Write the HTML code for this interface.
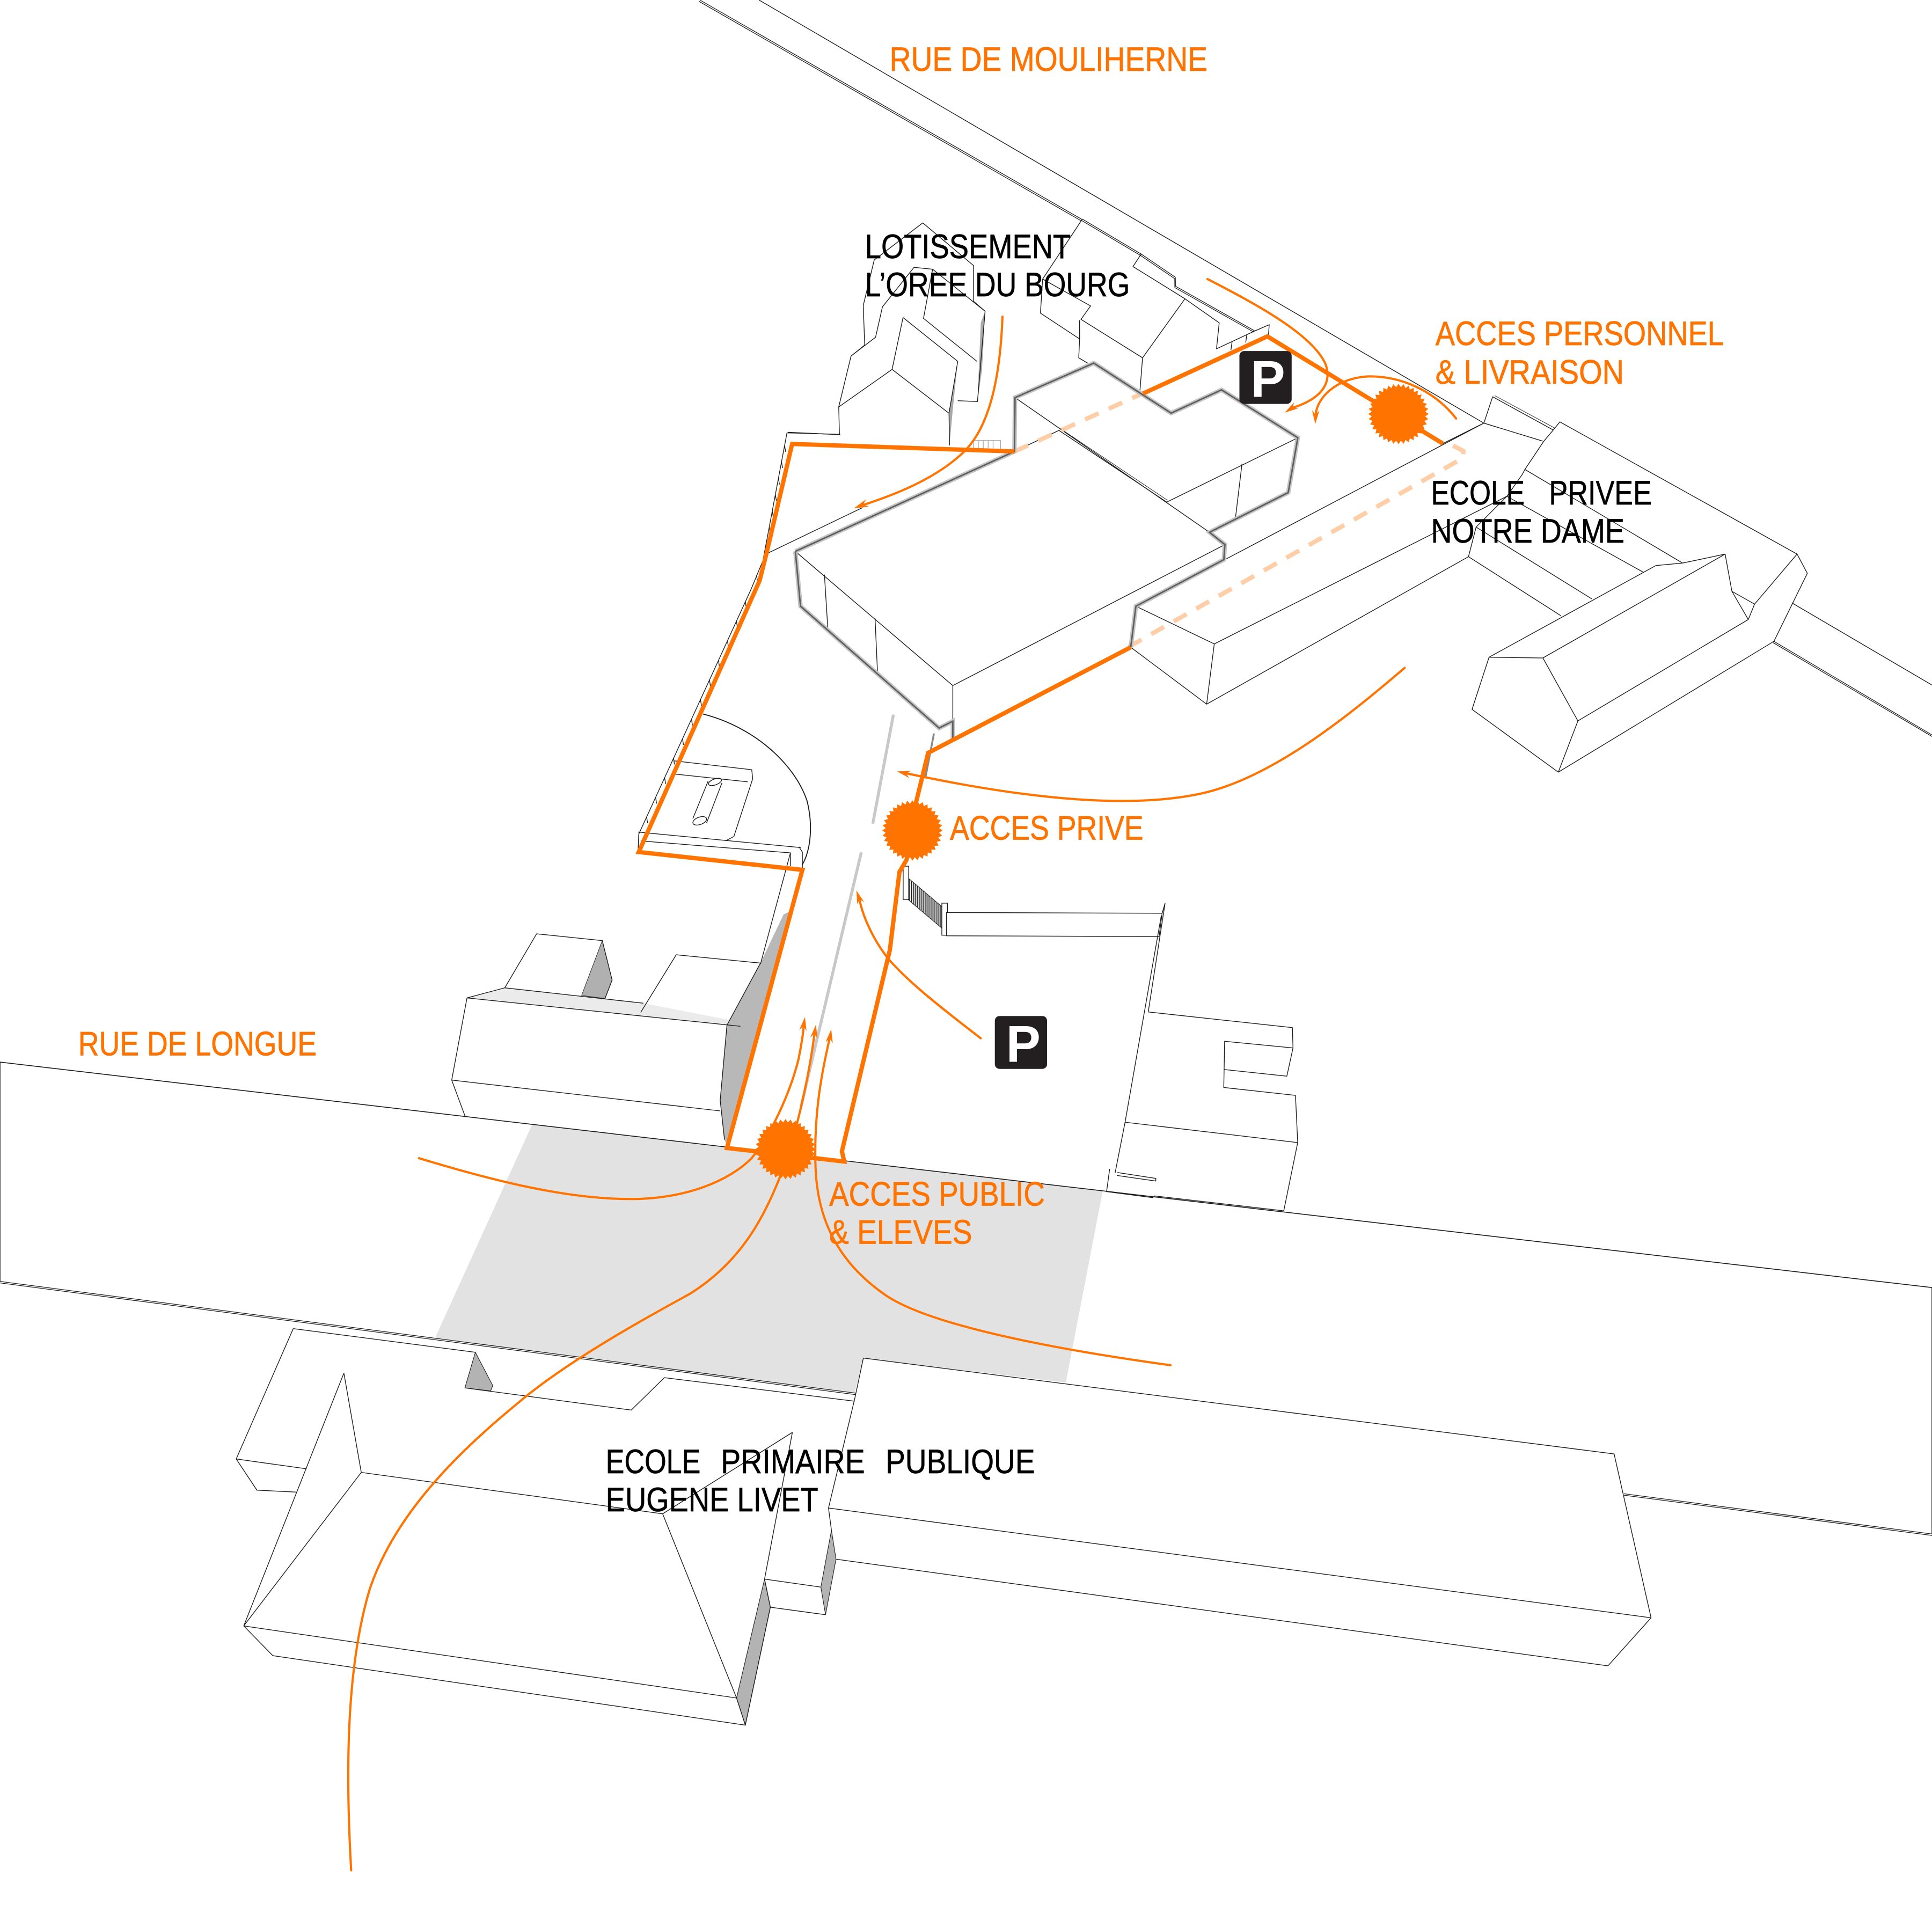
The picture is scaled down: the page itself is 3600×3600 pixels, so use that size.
<!DOCTYPE html>
<html><head><meta charset="utf-8">
<style>
html,body{margin:0;padding:0;background:#fff;}
svg{display:block;}
text{font-family:"Liberation Sans",sans-serif;}
</style></head><body>
<svg xmlns="http://www.w3.org/2000/svg" width="3600" height="3600" viewBox="0 0 1568 1568">
<defs>
<polygon id="burst" points="24.5,0 21.72,1.9 24.13,4.25 21.06,5.64 23.02,8.38 19.76,9.21 21.22,12.25 17.86,12.5 18.77,15.75 15.41,15.41 15.75,18.77 12.5,17.86 12.25,21.22 9.21,19.76 8.38,23.02 5.64,21.06 4.25,24.13 1.9,21.72 0,24.5 -1.9,21.72 -4.25,24.13 -5.64,21.06 -8.38,23.02 -9.21,19.76 -12.25,21.22 -12.5,17.86 -15.75,18.77 -15.41,15.41 -18.77,15.75 -17.86,12.5 -21.22,12.25 -19.76,9.21 -23.02,8.38 -21.06,5.64 -24.13,4.25 -21.72,1.9 -24.5,0 -21.72,-1.9 -24.13,-4.25 -21.06,-5.64 -23.02,-8.38 -19.76,-9.21 -21.22,-12.25 -17.86,-12.5 -18.77,-15.75 -15.41,-15.41 -15.75,-18.77 -12.5,-17.86 -12.25,-21.22 -9.21,-19.76 -8.38,-23.02 -5.64,-21.06 -4.25,-24.13 -1.9,-21.72 0,-24.5 1.9,-21.72 4.25,-24.13 5.64,-21.06 8.38,-23.02 9.21,-19.76 12.25,-21.22 12.5,-17.86 15.75,-18.77 15.41,-15.41 18.77,-15.75 17.86,-12.5 21.22,-12.25 19.76,-9.21 23.02,-8.38 21.06,-5.64 24.13,-4.25 21.72,-1.9"/>
<pattern id="hatch" width="1.6" height="4" patternUnits="userSpaceOnUse"><rect width="0.8" height="4" fill="#222"/></pattern>
</defs>
<rect width="1568" height="1568" fill="#fff"/>

<!-- plaza -->
<polygon points="432,912.4 895,966.4 865,1122 700.7,1102.2 693.6,1130.8 353,1086.1" fill="#e2e2e2"/>

<!-- ROADS -->
<g fill="none" stroke="#1a1a1a" stroke-linejoin="round">
 <path d="M568,0 L878,178 M567.3,1.1 L877.3,179.1" stroke-width="0.55"/>
 <path d="M616,0 L1204.3,343.4 M1454.3,489.3 L1568,556" stroke-width="0.6"/>
 <path d="M1439.7,520.5 L1568,596.5 M1439.1,521.6 L1568,597.7" stroke-width="0.55"/>
 <path d="M0,862 L590,931 M685,942 L1568,1045 M0,862 L0,1040 M1568,1045 L1568,1245" stroke-width="0.7"/>
 <path d="M0,1040 L697,1131 M0,1041.2 L697,1132.2 M1318,1212.3 L1568,1245 M1318,1213.5 L1568,1246.2" stroke-width="0.55"/>
</g>

<!-- BOTTOM BUILDINGS (Ecole primaire) -->
<polygon points="700.7,1102.2 1310,1180 1340,1313 1305,1352 679,1265 674.8,1242 672.4,1224 693.6,1135.6" fill="#fff"/>
<g fill="#b3b3b3" stroke="#222" stroke-width="0.5">
 <polygon points="385.8,1097.5 399.9,1124.5 398.2,1128.9 377.3,1126.4"/>
 <polygon points="620.5,1281.6 625.2,1304.4 604.9,1400.1 597.8,1378.1"/>
 <polygon points="674.8,1242 678.5,1265.4 670,1310.5 666.2,1288.1"/>
</g>
<g fill="none" stroke="#1a1a1a" stroke-width="0.6" stroke-linejoin="round">
 <path d="M238,1078.3 L385.8,1097.5 M238,1078.3 L191.7,1184.1 L248.8,1192.1 M191.7,1184.1 L208.5,1209.4 L240.5,1211"/>
 <path d="M377.3,1126.4 L512.3,1144.4 L539.2,1118.1 L693.6,1137.2"/>
 <path d="M279.1,1114.4 L293.2,1195 M279.1,1114.4 L197.8,1319.6 M293.2,1195 L197.8,1319.6 M293.2,1195 L537.8,1228.6 M197.8,1319.6 L597.8,1378.1 M197.8,1319.6 L221.4,1343.7 L604.9,1400.1 M597.8,1378.1 L604.9,1400.1"/>
 <path d="M643.1,1162.5 L537.8,1228.6 L597.8,1378.1 M643.1,1162.5 L620.5,1281.6 L625.2,1304.4 L604.9,1400.1"/>
 <path d="M620.5,1281.6 L666.2,1288.1 M625.2,1304.4 L670,1310.5"/>
 <path d="M700.7,1102.2 L1310,1180 L1340,1313 L1305,1352 M700.7,1102.2 L693.6,1135.6 L672.4,1223.9 L674.8,1242 M672.4,1223.9 L1340,1313 M678.5,1265.4 L1305,1352"/>
</g>

<!-- LEFT-OF-ALLEY BUILDING (rue de longue side) -->
<polygon points="379,809.9 409.7,801.7 522.2,814.2 598,829 600.9,832.9" fill="#ebebeb"/>
<polygon points="617,782 590,832 584.5,893 588,925 590.5,931 640.5,740 636,742" fill="#b8b8b8"/>
<polygon points="488.8,763.4 496.8,795.4 491,810.4 472,807.9" fill="#b0b0b0" stroke="#222" stroke-width="0.4"/>
<g fill="none" stroke="#1a1a1a" stroke-width="0.6" stroke-linejoin="round">
 <path d="M379,809.9 L409.7,801.7 M379,809.9 L600.9,832.9 M409.7,801.7 L522.2,814.2 M379,809.9 L366.6,876.6 L377.7,906.6 M366.6,876.6 L584.4,901.6"/>
 <path d="M409.7,801.7 L435.5,757.9 L488.8,763.4 L496.8,795.4 L491,810.4"/>
 <path d="M520,821.6 L548.8,774.9 L617.7,781.7"/>
 <path d="M617,782 L590,832 L584.5,893 L588,925"/>
 <path d="M641.5,692.2 L617.2,782.4 M648.4,687.2 L651.2,691.5 L651.2,705"/>
 <path d="M547,617.5 L610.1,624.7 L610.9,632 L595.6,678.9 L588.7,682.5 M548.4,628.3 L606.8,634.5"/>
 <path d="M562.3,664.4 L574.8,633.7 M573.4,668 L585.9,635.5"/>
 <ellipse cx="567.9" cy="666.2" rx="5.8" ry="3" transform="rotate(-20 567.9 666.2)"/>
 <ellipse cx="580.3" cy="634.6" rx="5.6" ry="2.4" transform="rotate(-20 580.3 634.6)"/>
 <path d="M517.8,675.3 L649.8,687.9 M520,682.5 L641.5,692.2 L641.5,703"/>
 <path d="M570.6,579.5 C612,590 645,620 655,650 C660,670 658,690 651,702" stroke-width="0.8"/>
</g>

<!-- FENCE -->
<g fill="none" stroke="#1a1a1a" stroke-width="0.6">
 <path d="M681.9,352.5 L638.7,351.3 L619.2,455 L609.5,478.4 L518.4,677 L517.8,691.5"/>
 <path d="M636.8,361.7 l0.8,5 M634.3,374.9 l0.8,5 M631.8,388.2 l0.8,5 M629.3,401.5 l0.8,5 M626.8,414.8 l0.8,5 M624.3,428.1 l0.8,5 M621.7,441.4 l0.8,5 M614,467 l0.8,5 M604.9,488.3 l0.8,5 M597.7,504.2 l0.8,5 M590.4,520.1 l0.8,5 M583.1,536 l0.8,5 M575.8,551.9 l0.8,5 M568.5,567.8 l0.8,5 M561.2,583.7 l0.8,5 M553.9,599.5 l0.8,5 M546.6,615.4 l0.8,5 M539.4,631.3 l0.8,5 M532.1,647.2 l0.8,5 M524.8,663.1 l0.8,5"/>
 <path d="M622,449.5 L700,412"/>
</g>

<!-- LOTISSEMENT HOUSES -->
<g fill="#a9a9a9" stroke="none">
 <polygon points="777.3,293.3 773.5,330 770.6,361.5 770.2,335.4"/>
 <polygon points="799.5,252.6 797,300 793.3,325.9 796,262"/>
</g>
<g fill="none" stroke="#1a1a1a" stroke-width="0.6" stroke-linejoin="round">
 <path d="M748.9,180.9 L709.5,211 L700.6,248 L701.8,280 L690.7,289 L680.7,330.3 L681.3,352.8 L639.5,350.8"/>
 <path d="M748.9,180.9 L790.2,215.6 L790.2,244.6 L799.5,252.6 L793.3,325.9 L777.3,325.2"/>
 <path d="M741.8,217 L716.2,249 L710.6,273.7 L690.7,288.9"/>
 <path d="M741.8,217 L756.9,218.5 L749.5,258.4 L792.9,293.3 M756.9,218.5 L799.5,252.6"/>
 <path d="M732.9,257.7 L724,299.8 L680.7,330.3 M732.9,257.7 L777.3,293.3 L770.2,335.4 L770.6,361.5 M724,299.8 L770.2,335.4"/>
 <path d="M878.4,177.8 L875.1,182.9 L846.2,226.5 L844.4,254.1 L876.2,275.1 L875.5,290.4 L884,295.5"/>
 <path d="M878.4,177.8 L926.2,206.2 L953.9,225 M877.8,178.9 L925.6,207.3 L953.3,226.1" stroke-width="0.55"/>
 <path d="M926.2,206.2 L919.5,216.3 L961.7,242.5 L927.3,290.4 L925.1,318"/>
 <path d="M846.2,226.5 L885.1,248.3 L877.3,259.2 L927.3,290.4 M876.2,259.9 L876.2,275"/>
 <path d="M961.7,242.5 L989.5,262 L987.3,283.1 L1018.4,268.6"/>
 <path d="M953.9,225 L954,232.3 L1018.4,268.6 M953.4,226 L953.5,233.4 L1017.9,269.7" stroke-width="0.55"/>
 <path d="M1018.4,268.6 L1030.1,263.5 L1029.4,273 M1000,277 l-1,7 M1012,271 l-1,7"/>
</g>
<g fill="none" stroke="#aaa" stroke-width="0.6">
 <rect x="790" y="357.5" width="22" height="8.5"/>
 <path d="M794,357.5 v8.5 M798,357.5 v8.5 M802,357.5 v8.5 M806,357.5 v8.5"/>
</g>

<!-- MAIN BUILDING thin lines -->
<g fill="none" stroke="#1a1a1a" stroke-width="0.6" stroke-linejoin="round">
 <path d="M645.5,447.5 L773.3,556.4 L994.1,442 M773.3,556.4 L773.3,585.3"/>
 <path d="M823.8,322.7 L981.6,432"/>
 <path d="M823.3,366.4 L859.4,349.3 L946.9,407.5 L1053.3,355.3"/>
 <path d="M860.5,347.8 L947.5,406" stroke-width="0.4"/>
 <path d="M1008,376.4 L1002.5,422 M669.1,466.4 L671.9,510.9 M710.2,502 L712.2,546.4"/>
 <path d="M758,595.3 L751,631.5" stroke="#888" stroke-width="1.5"/>
</g>

<!-- ECOLE PRIVEE -->
<g fill="none" stroke="#1a1a1a" stroke-width="0.6" stroke-linejoin="round">
 <path d="M994.1,454.2 L1204.3,343.4"/>
 <path d="M921.9,492 L985.5,522.6 L979.3,571.5 L917.7,525.3"/>
 <path d="M985.5,522.6 L1223,402.8 M979.3,571.5 L1191.8,451.8"/>
 <path d="M1191.8,451.8 L1198,427.8 L1223,402.8 L1235.5,385 L1237.6,381 L1253,358 L1260.6,349 L1266,342.4 L1458.5,449.7"/>
 <path d="M1237.6,381 L1365.6,457 M1223,402.8 L1333.5,464.3 M1198,427.8 L1292,486.1 M1191.8,451.8 L1266.8,499.7"/>
 <path d="M1171,360 L1204.3,343.4 L1211.4,322 L1260.6,349 M1204.3,343.4 L1252,358"/>
 <path d="M1213,321 L1262,347.5" stroke-width="0.4"/>
 <path d="M1343.9,459 L1365.6,457 L1400.1,449.7 L1252.2,534 M1343.9,459 L1208.5,533.4 L1252.2,534"/>
 <path d="M1208.5,533.4 L1194.7,575.7 L1264.7,626.7 M1252.2,534 L1280.6,585.1 L1264.7,626.7"/>
 <path d="M1280.6,585.1 L1418.9,502.8 M1264.7,626.7 L1439.7,520.5"/>
 <path d="M1400.1,449.7 L1405.6,479.9 L1418.9,502.8 M1405.6,479.9 L1424,490.3 L1418.9,502.8 M1424,490.3 L1458.5,449.7 L1466.8,465.3 L1439.7,520.5"/>
</g>

<!-- PARKING AREA / GATE / RIGHT BUILDINGS -->
<polygon points="736.9,712.5 764.4,735.8 764.4,753.3 736.9,730" fill="url(#hatch)" stroke="#222" stroke-width="0.5"/>
<g fill="#fff" stroke="#1a1a1a" stroke-width="0.6">
 <rect x="733" y="703" width="4.5" height="27"/>
 <rect x="764.4" y="733" width="4.5" height="26"/>
 <polygon points="768.2,740.6 943.2,741.2 940.7,760.1 768.2,759.5"/>
</g>
<g fill="none" stroke="#1a1a1a" stroke-width="0.6" stroke-linejoin="round">
 <path d="M945.6,732.9 L943.2,741.2 M945.6,732.9 L931.9,821.3 M942.5,743 L913.1,910.8 L905,952"/>
 <path d="M931.9,821.3 L1048.9,834 L1049.4,850.5 L993.9,845.1 L993.2,882.6 L1051.4,889 L1053.2,927.3 L1041.9,982.7"/>
 <path d="M993.2,868 L1044.4,873.4 L1049.4,850.5 M913.1,910.8 L1053.2,927.3"/>
 <path d="M900.6,948.7 L898.1,967.1 L935.6,972 L936.9,970.6 L1041.9,982.7 M906.9,951.6 L938.1,956.4 L938,958.5 L906.5,954"/>
</g>

<!-- alley center gray marks -->
<g stroke="#c8c8c8" stroke-width="2.4" stroke-linecap="round" fill="none">
 <path d="M724.9,581 L708.5,667.7"/>
 <path d="M698.8,692.7 L650.2,897.7"/>
</g>

<!-- DASHED ORANGE -->
<g fill="none" stroke="#ffcda6" stroke-width="3.6" stroke-dasharray="12 9">
 <path d="M823.3,366.4 L928,319"/>
 <path d="M916,525 L1187.6,371.6 L1187.6,366 L1178,361"/>
</g>

<!-- GRAY BUILDING OUTLINE -->
<g fill="none" stroke-linejoin="miter">
 <path d="M645.5,447.5 L823.3,366.4 L823.8,322.7 L887.7,294.7 L950.5,335.3 L991.4,316.4 L1053.3,355.3 L1045.5,399.8 L981.6,432 L994.1,442 L993.3,454.2 L921.9,492 L917.7,525.3 M645.5,447.5 L649.7,492 L762.2,590.9 L773.3,585.3 L773.3,600" stroke="#c4c4c4" stroke-width="3.6"/>
 <path d="M645.5,447.5 L823.3,366.4 L823.8,322.7 L887.7,294.7 L950.5,335.3 L991.4,316.4 L1053.3,355.3 L1045.5,399.8 L981.6,432 L994.1,442 L993.3,454.2 L921.9,492 L917.7,525.3 M645.5,447.5 L649.7,492 L762.2,590.9 L773.3,585.3 L773.3,600" stroke="#5e5e5e" stroke-width="1.2"/>
</g>

<!-- THICK ORANGE BOUNDARY -->
<g fill="none" stroke="#ff7400" stroke-width="3.5" stroke-linejoin="miter">
 <path d="M823.3,366.4 L642.9,360.3 L622,449.5 L616.5,471.2 L518.4,691.5 L651.2,706 L590,931.7 L685.2,942.7 L683.3,934.4 L722.2,771 L730,707.7 L735.8,697.7 L743.5,651 L753.3,611 L917.7,525.3"/>
 <path d="M927.7,319.4 L1028.6,273 L1171,360"/>
</g>

<!-- THIN ORANGE ARROW CURVES -->
<g fill="none" stroke="#ff7400" stroke-width="1.8" stroke-linecap="round">
 <path d="M813.6,257 C812,300 805,345 782,367 C760,388 728,401 700,410"/>
 <path d="M980,226.5 C1020,247 1066,272 1076,296 C1082,314 1068,325 1049,331"/>
 <path d="M1181.8,339.7 C1165,318 1138,305 1110,305.5 C1085,307 1069,322 1067.7,337"/>
 <path d="M1140,542 C1090,585 1030,632 975,644 C920,656 840,650 735,627.5"/>
 <path d="M796,842.7 C760,815 735,795 720,777 C707,760 700,742 697.5,730"/>
 <path d="M340,940 C390,955 460,975 520,973 C565,971 595,955 610,940 C630,915 643,880 648,860 C651,845 652,838 652.3,832"/>
 <path d="M285,1518 C280,1430 282,1350 300,1290 C320,1230 370,1180 420,1139 C460,1105 520,1072 560,1050 C600,1025 620,990 635,950 C648,915 657,870 661.2,838"/>
 <path d="M950,1108 C870,1097 760,1078 720,1052 C680,1025 664,990 662,950 C660,905 667,870 673.5,842"/>
</g>
<g fill="#ff7400">
 <polygon points="693,412.5 705.3,411.2 700.4,409.6 703,405.2"/>
 <polygon points="1042.7,334.9 1053.5,331.5 1049,330.85 1050.3,326.5"/>
 <polygon points="1067.5,344.1 1070.8,333.2 1067.7,336.6 1064.8,333"/>
 <polygon points="728,626 739.4,625.7 735.3,627.8 738,631.5"/>
 <polygon points="695,722.7 701.4,732.1 697.5,729.75 695.8,734.1"/>
 <polygon points="653.3,825.4 654.6,836.75 652.2,832.8 648.7,835.85"/>
 <polygon points="662.2,831.6 663.5,842.95 661.1,839 657.6,842.05"/>
 <polygon points="674.6,835.4 675.9,846.75 673.5,842.8 670,845.85"/>
</g>

<!-- BURSTS -->
<g fill="#ff7400">
 <use href="#burst" x="1135" y="336"/>
 <use href="#burst" x="740.5" y="674"/>
 <use href="#burst" x="637.5" y="932.7"/>
</g>

<!-- P ICONS -->
<rect x="1005.9" y="284.9" width="42.4" height="42.9" rx="3.8" fill="#231f20"/>
<text x="1029" y="322" font-size="42" font-weight="bold" fill="#fff" text-anchor="middle">P</text>
<rect x="807.4" y="824.6" width="42.4" height="42.9" rx="3.8" fill="#231f20"/>
<text x="830.5" y="861.7" font-size="42" font-weight="bold" fill="#fff" text-anchor="middle">P</text>

<!-- LABELS -->
<g font-size="27.5" fill="#ff7400" stroke="#ff7400" stroke-width="0.35">
 <text x="722" y="57.5" textLength="258" lengthAdjust="spacingAndGlyphs">RUE DE MOULIHERNE</text>
 <text x="1165" y="280" textLength="234" lengthAdjust="spacingAndGlyphs">ACCES PERSONNEL</text>
 <text x="1165" y="311.5" textLength="153" lengthAdjust="spacingAndGlyphs">&amp; LIVRAISON</text>
 <text x="771" y="681.5" textLength="157" lengthAdjust="spacingAndGlyphs">ACCES PRIVE</text>
 <text x="673" y="978.5" textLength="175" lengthAdjust="spacingAndGlyphs">ACCES PUBLIC</text>
 <text x="673" y="1009.5" textLength="116" lengthAdjust="spacingAndGlyphs">&amp; ELEVES</text>
 <text x="63.5" y="856.5" textLength="193.5" lengthAdjust="spacingAndGlyphs">RUE DE LONGUE</text>
</g>
<g font-size="27.5" fill="#000" stroke="#000" stroke-width="0.3">
 <text x="702" y="209.5" textLength="167" lengthAdjust="spacingAndGlyphs">LOTISSEMENT</text>
 <text x="702" y="240.5" textLength="215" lengthAdjust="spacingAndGlyphs">L’OREE DU BOURG</text>
 <text x="1161.4" y="409.5" textLength="76" lengthAdjust="spacingAndGlyphs">ECOLE</text>
 <text x="1257.2" y="409.5" textLength="83.4" lengthAdjust="spacingAndGlyphs">PRIVEE</text>
 <text x="1161.4" y="440.3" textLength="157" lengthAdjust="spacingAndGlyphs">NOTRE DAME</text>
 <text x="491.6" y="1195.5" textLength="77" lengthAdjust="spacingAndGlyphs">ECOLE</text>
 <text x="585" y="1195.5" textLength="117" lengthAdjust="spacingAndGlyphs">PRIMAIRE</text>
 <text x="718.7" y="1195.5" textLength="121.3" lengthAdjust="spacingAndGlyphs">PUBLIQUE</text>
 <text x="491.6" y="1226.5" textLength="172.5" lengthAdjust="spacingAndGlyphs">EUGENE LIVET</text>
</g>
</svg>
</body></html>
